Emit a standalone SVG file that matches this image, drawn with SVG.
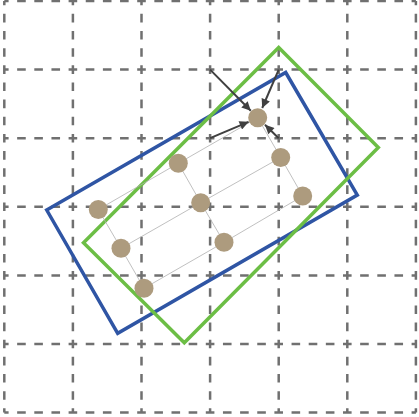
<svg xmlns="http://www.w3.org/2000/svg" width="419" height="417" viewBox="0 0 419 417">
<style>
.grid{stroke:#707070;stroke-width:2.5;stroke-dasharray:8.6 8.55;stroke-dashoffset:4.3;fill:none}
.rect{fill:none;stroke-width:3.5;stroke-linejoin:miter}
.link{stroke:#b0b0b0;stroke-width:0.8;fill:none}
.node{fill:#ad9b7e}
.arrow{stroke:#404040;stroke-width:2;fill:none;marker-end:url(#ah)}
</style>
<defs>
<marker id="ah" viewBox="0 0 10 10" refX="10" refY="5" markerWidth="5" markerHeight="4.5" orient="auto" markerUnits="strokeWidth">
<path d="M0,0 L10,5 L0,10 z" fill="#404040"/>
</marker>
</defs>
<rect width="419" height="417" fill="#ffffff"/>
<g id="grid">
<line class="grid" x1="4.3" y1="1" x2="415.9" y2="1"/>
<line class="grid" x1="4.3" y1="69.6" x2="415.9" y2="69.6"/>
<line class="grid" x1="4.3" y1="138.2" x2="415.9" y2="138.2"/>
<line class="grid" x1="4.3" y1="206.8" x2="415.9" y2="206.8"/>
<line class="grid" x1="4.3" y1="275.4" x2="415.9" y2="275.4"/>
<line class="grid" x1="4.3" y1="344" x2="415.9" y2="344"/>
<line class="grid" x1="4.3" y1="412.6" x2="415.9" y2="412.6"/>
<line class="grid" x1="4.3" y1="1" x2="4.3" y2="412.6"/>
<line class="grid" x1="72.9" y1="1" x2="72.9" y2="412.6"/>
<line class="grid" x1="141.5" y1="1" x2="141.5" y2="412.6"/>
<line class="grid" x1="210.1" y1="1" x2="210.1" y2="412.6"/>
<line class="grid" x1="278.7" y1="1" x2="278.7" y2="412.6"/>
<line class="grid" x1="347.3" y1="1" x2="347.3" y2="412.6"/>
<line class="grid" x1="415.9" y1="1" x2="415.9" y2="412.6"/>
</g>
<g id="blue-rect">
<polygon class="rect" stroke="#2f55a4" points="46.7,210 285.7,72.5 357.3,195 117.7,333.3"/>
</g>
<g id="green-rect">
<polygon class="rect" stroke="#6cbe45" points="278.7,47.5 378.3,147.5 184.3,342.7 83.5,242.7"/>
</g>
<g id="connectors">
<polyline class="link" points="98.3,209.5 178.3,163.3 257.7,117.7"/>
<polyline class="link" points="121,248.3 200.7,202.7 280.7,157.5"/>
<polyline class="link" points="144,288.3 224,242.3 302.7,196"/>
<polyline class="link" points="98.3,209.5 121,248.3 144,288.3"/>
<polyline class="link" points="178.3,163.3 200.7,202.7 224,242.3"/>
<polyline class="link" points="257.7,117.7 280.7,157.5 302.7,196"/>
<line class="arrow" x1="210.1" y1="69.6" x2="250.8" y2="110.8"/>
<line class="arrow" x1="278.7" y1="69.6" x2="262.2" y2="108"/>
<line class="arrow" x1="210.1" y1="138.2" x2="248.6" y2="121.8"/>
<line class="arrow" x1="278.7" y1="138.2" x2="265" y2="124.8"/>
</g>
<g id="n1"><circle class="node" cx="257.7" cy="117.7" r="9.5"/></g>
<g id="n2"><circle class="node" cx="178.3" cy="163.3" r="9.5"/></g>
<g id="n3"><circle class="node" cx="280.7" cy="157.5" r="9.5"/></g>
<g id="n4"><circle class="node" cx="98.3" cy="209.5" r="9.5"/></g>
<g id="n5"><circle class="node" cx="200.7" cy="202.7" r="9.5"/></g>
<g id="n6"><circle class="node" cx="302.7" cy="196" r="9.5"/></g>
<g id="n7"><circle class="node" cx="121" cy="248.3" r="9.5"/></g>
<g id="n8"><circle class="node" cx="224" cy="242.3" r="9.5"/></g>
<g id="n9"><circle class="node" cx="144" cy="288.3" r="9.5"/></g>
</svg>
